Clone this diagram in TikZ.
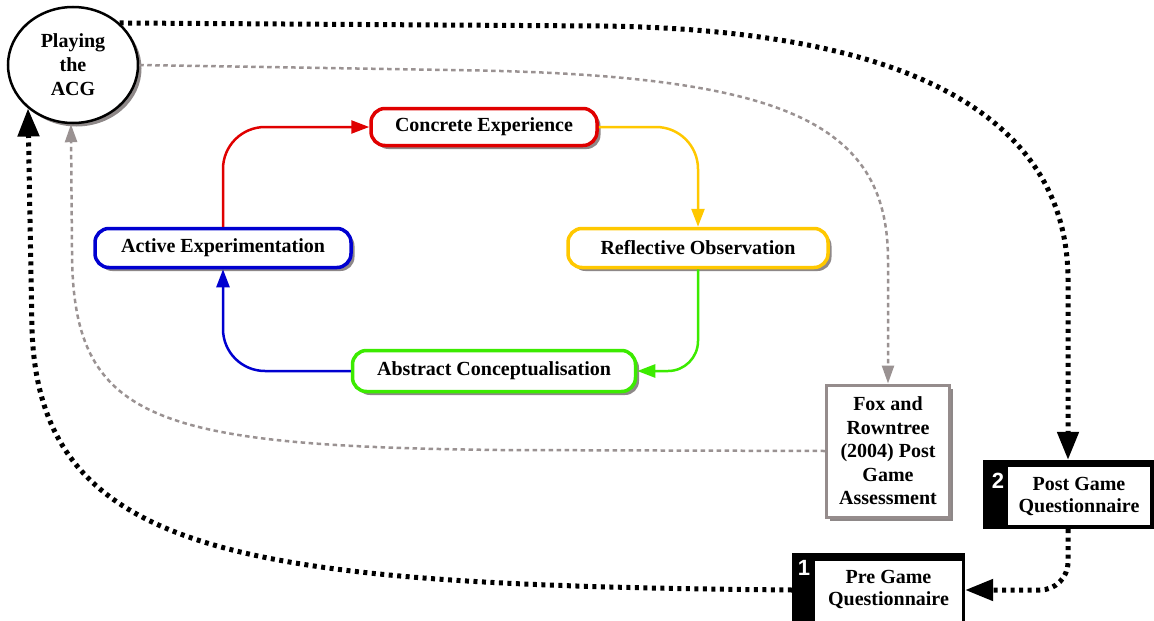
\documentclass[tikz,border=0pt]{standalone}
\usepackage{fontspec}
\setmainfont{Liberation Serif}
\newfontfamily\numfont{Liberation Sans}
\usetikzlibrary{arrows.meta,shapes.geometric,shadows}

\definecolor{cered}{HTML}{E00000}
\definecolor{roamber}{HTML}{FFC800}
\definecolor{acgreen}{HTML}{3CEB00}
\definecolor{aeblue}{HTML}{0000D0}
\definecolor{foxgray}{HTML}{958C8C}
\definecolor{shadowc}{HTML}{8E8888}
\definecolor{dashgray}{HTML}{9A9292}

\begin{document}
\begin{tikzpicture}[x=1pt,y=-1pt,
  font=\bfseries\fontsize{20}{24}\selectfont,
  boxshadow/.style={drop shadow={shadow xshift=3.5pt,shadow yshift=-3.5pt,fill=shadowc,opacity=1}},
  stagebox/.style={draw=#1,line width=3.5pt,rounded corners=14pt,fill=white,boxshadow,
                   minimum height=39pt,inner sep=0pt},
  cyclearrow/.style={draw=#1,line width=2.5pt,rounded corners=42pt,
                     -{Triangle[length=18pt,width=13pt]}},
  bigdot/.style={draw=black,line width=5pt,dash pattern=on 4pt off 4.5pt,
                 -{Triangle[length=28pt,width=21pt]}},
  greydash/.style={draw=dashgray,line width=2.5pt,dash pattern=on 4.5pt off 3.5pt,
                   -{Triangle[length=18pt,width=12pt]}},
  numlabel/.style={text=white,inner sep=0pt,font=\numfont\bfseries\fontsize{22}{22}\selectfont},
  qtext/.style={align=center,inner sep=0pt,font=\bfseries\fontsize{20}{22}\selectfont},
]
\useasboundingbox (0,0) rectangle (1154,621);
\fill[white] (0,0) rectangle (1154,621);
\clip (0,0) rectangle (1154,621);

% game node
\node[ellipse,draw,line width=2.5pt,fill=white,boxshadow,minimum width=130pt,
      minimum height=116pt,inner sep=0pt,align=center] (acg) at (73,65) {Playing\\the\\ACG};

% Kolb cycle
\node[stagebox=cered,minimum width=226pt,minimum height=37pt] (ce) at (484,127) {Concrete Experience};
\node[stagebox=aeblue,minimum width=256pt] (ae) at (223,248) {Active Experimentation};
\node[stagebox=roamber,minimum width=260pt] (ro) at (698,248) {Reflective Observation};
\node[stagebox=acgreen,minimum width=283pt,minimum height=41pt] (ac) at (494,371) {Abstract Conceptualisation};

\draw[cyclearrow=cered] (ae.north) |- (ce.west);
\draw[cyclearrow=roamber] (ce.east) -| (ro.north);
\draw[cyclearrow=acgreen,rounded corners=30pt] (ro.south) |- (ac.east);
\draw[cyclearrow=aeblue] (ac.west) -| (ae.south);

% assessment box
\node[draw=foxgray,line width=3pt,fill=white,boxshadow,minimum width=123pt,minimum height=132pt,
      inner sep=0pt,align=center,font=\bfseries\fontsize{20}{23.5}\selectfont]
      (fox) at (888,451) {Fox and\\Rowntree\\(2004) Post\\Game\\Assessment};

% questionnaires
\node[fill=black,minimum width=171pt,minimum height=69pt,inner sep=0pt] (pg) at (1068,494.5) {};
\node[fill=white,minimum width=142pt,minimum height=58pt,qtext] (pgin) at (1079,496) {Post Game\\Questionnaire};
\node[numlabel] (pgnum) at (998,481) {2};

\node[fill=black,minimum width=173pt,minimum height=74pt,inner sep=0pt] (preg) at (878.5,590) {};
\node[fill=white,minimum width=147pt,minimum height=66pt,inner sep=0pt] (pregin) at (888.5,594) {};
\node[qtext] (pregtext) at (888.5,589) {Pre Game\\Questionnaire};
\node[numlabel] (pregnum) at (804,568) {1};

% study flow
\draw[bigdot] (acg.42) -- (600,26) .. controls (950,30) and (1068,140) .. (1068,280) -- (pg.north);
\draw[bigdot,rounded corners=28pt] (pg.south) |- (preg.east);
\draw[bigdot] (preg.west) .. controls (250,585) and (40,560) .. (32,330) -- (acg.224);

% assessment flow
\draw[greydash] (acg.east) -- (450,70) .. controls (780,74) and (888,120) .. (888,260) -- (fox.north);
\draw[greydash] (fox.west) -- (500,450) .. controls (150,446) and (72,420) .. (72,250) -- (acg.268);
\end{tikzpicture}
\end{document}
